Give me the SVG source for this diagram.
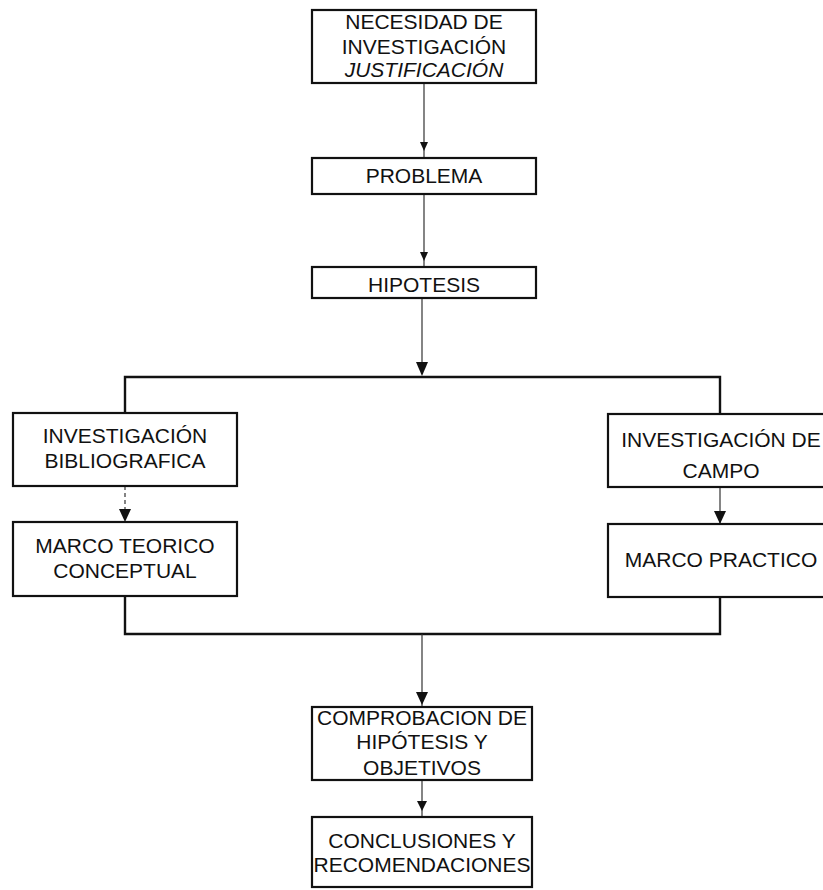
<svg xmlns="http://www.w3.org/2000/svg" width="823" height="890" viewBox="0 0 823 890">
<style>
  .box { fill: #ffffff; stroke: #111111; stroke-width: 2.2; }
  .t { font-family: "Liberation Sans", Arial, sans-serif; font-size: 21px; fill: #111111; text-anchor: middle; }
  .thin { stroke: #333333; stroke-width: 1.2; fill: none; }
  .thick { stroke: #111111; stroke-width: 2.4; fill: none; }
  .ah { fill: #111111; }
</style>
<rect width="823" height="890" fill="#ffffff"/>
<g id="connectors">
  <line class="thin" x1="424" y1="83" x2="424" y2="158"/>
  <path class="ah" d="M420,142 L428,142 L424,151 Z"/>
  <line class="thin" x1="424" y1="194" x2="424" y2="267"/>
  <path class="ah" d="M420,252 L428,252 L424,261 Z"/>
  <line class="thin" x1="422" y1="297" x2="422" y2="366"/>
  <path class="ah" d="M416,362 L428,362 L422,376 Z"/>
  <polyline class="thick" points="125,413 125,377 720,377 720,414"/>
  <line class="thin" x1="125" y1="486" x2="125" y2="522" stroke-dasharray="4,3"/>
  <path class="ah" d="M119,509 L131,509 L125,522 Z"/>
  <line class="thin" x1="720" y1="488" x2="720" y2="524"/>
  <path class="ah" d="M714,511 L726,511 L720,524 Z"/>
  <polyline class="thick" points="125,596 125,634 720,634 720,597"/>
  <line class="thin" x1="422" y1="634" x2="422" y2="707"/>
  <path class="ah" d="M416,692 L428,692 L422,705 Z"/>
  <line class="thin" x1="422" y1="780" x2="422" y2="817"/>
  <path class="ah" d="M417,801 L427,801 L422,811 Z"/>
</g>
<g id="n1">
  <rect class="box" x="312" y="10" width="224" height="73" stroke-width="2.8"/>
  <text class="t" x="424" y="29">NECESIDAD DE</text>
  <text class="t" x="424" y="54">INVESTIGACIÓN</text>
  <text class="t" x="424" y="77" font-style="italic">JUSTIFICACIÓN</text>
</g>
<g id="n2">
  <rect class="box" x="312" y="158" width="224" height="36"/>
  <text class="t" x="424" y="183">PROBLEMA</text>
</g>
<g id="n3">
  <rect class="box" x="312" y="267" width="224" height="31"/>
  <text class="t" x="424" y="292">HIPOTESIS</text>
</g>
<g id="n4">
  <rect class="box" x="13" y="413" width="224" height="73"/>
  <text class="t" x="125" y="443">INVESTIGACIÓN</text>
  <text class="t" x="125" y="468">BIBLIOGRAFICA</text>
</g>
<g id="n5">
  <rect class="box" x="13" y="522" width="224" height="74"/>
  <text class="t" x="125" y="553">MARCO TEORICO</text>
  <text class="t" x="125" y="578">CONCEPTUAL</text>
</g>
<g id="n6">
  <rect class="box" x="608" y="414" width="240" height="73"/>
  <text class="t" x="721" y="447">INVESTIGACIÓN DE</text>
  <text class="t" x="721" y="478">CAMPO</text>
</g>
<g id="n7">
  <rect class="box" x="608" y="524" width="240" height="73"/>
  <text class="t" x="721" y="567">MARCO PRACTICO</text>
</g>
<g id="n8">
  <rect class="box" x="312" y="707" width="220" height="73"/>
  <text class="t" x="422" y="725">COMPROBACION DE</text>
  <text class="t" x="422" y="749">HIPÓTESIS Y</text>
  <text class="t" x="422" y="775">OBJETIVOS</text>
</g>
<g id="n9">
  <rect class="box" x="312" y="817" width="220" height="70"/>
  <text class="t" x="422" y="848">CONCLUSIONES Y</text>
  <text class="t" x="422" y="872">RECOMENDACIONES</text>
</g>
</svg>
